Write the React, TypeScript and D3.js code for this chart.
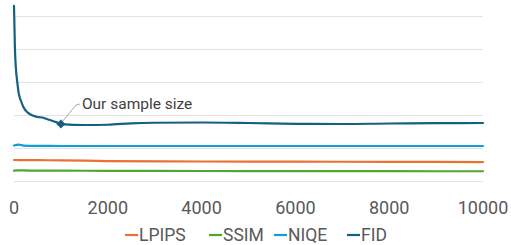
import React from "react";
import * as d3 from "d3";

// sample sizes used for the FID curve (dense near the start)
const fidSizes = [0, 20, 40, 70, 100, 150, 200, 300, 400, 500, 600, 700, 800, 900, 1000,
    1500, 2000, 2500, 3000, 4000, 5000, 6000, 7000, 8000, 9000, 10000];
const fidValues = [266, 200.7, 172, 150.7, 134, 122, 113, 104, 100, 97.7, 97, 94.7, 92.4, 90, 87,
    85.6, 86, 88.2, 89, 89.4, 88.6, 87.4, 87.1, 87.9, 88.3, 88.6];

// sample sizes for the flatter metrics
const sizes = [0, 100, 200, 500, 1000, 2000, 4000, 6000, 8000, 10000];
const lpipsValues = [32.6, 32.5, 32.4, 32.3, 32.1, 31, 30.3, 30, 29.8, 29.5];
const ssimValues = [16.4, 17, 16.8, 16.5, 16.4, 16.2, 15.9, 15.7, 15.6, 15.5];
const niqeValues = [54.5, 56, 54.5, 54, 53.8, 53.8, 53.8, 53.8, 53.8, 53.8];

const xTicks = [0, 2000, 4000, 6000, 8000, 10000];
const yTicks = [0, 50, 100, 150, 200, 250];

const sampleSize = 1000;
const sampleLabel = "Our sample size";

const series = [
    {name: "LPIPS", color: "#E97132", xs: sizes, ys: lpipsValues},
    {name: "SSIM", color: "#4EA72E", xs: sizes, ys: ssimValues},
    {name: "NIQE", color: "#0F9ED5", xs: sizes, ys: niqeValues},
    {name: "FID", color: "#156082", xs: fidSizes, ys: fidValues},
];

const App = () => {
    const width = 511;
    const height = 245;
    const font = "Roboto, 'Open Sans', sans-serif";

    const x = d3.scaleLinear().domain([0, 10000]).range([14, 483]);
    const y = d3.scaleLinear().domain([0, 250]).range([181.5, 16.5]);

    const line = d3
        .line<[number, number]>()
        .x((d) => x(d[0]))
        .y((d) => y(d[1]))
        .curve(d3.curveMonotoneX);

    const markerX = x(sampleSize);
    const markerY = y(fidValues[fidSizes.indexOf(sampleSize)]);

    const legendX = [125, 209, 274, 347];
    const legendY = 235;

    return (
        <svg width={width} height={height} style={{position: "absolute", left: 0, top: 0}}>
            {yTicks.map((t) => (
                <line key={t} x1={x(0)} x2={x(10000)} y1={y(t)} y2={y(t)}
                      stroke="#e3e3e3" strokeWidth={1.2}/>
            ))}
            {xTicks.map((t) => (
                <text key={t} x={x(t)} y={213.5} textAnchor="middle" fontFamily={font}
                      fontSize={18} fill="#595959">{t}</text>
            ))}
            {series.map((s) => (
                <path key={s.name}
                      d={line(s.xs.map((v, i) => [v, s.ys[i]] as [number, number])) || ""}
                      fill="none" stroke={s.color} strokeWidth={2.2}
                      strokeLinejoin="round" strokeLinecap="round"/>
            ))}
            <path d={`M${markerX + 1},${markerY - 2} L${markerX + 15},${markerY - 19} L${markerX + 19},${markerY - 20}`}
                  fill="none" stroke="#a6a6a6" strokeWidth={1}/>
            <path d={`M${markerX},${markerY - 4.5} L${markerX + 4.5},${markerY} L${markerX},${markerY + 4.5} L${markerX - 4.5},${markerY} Z`}
                  fill="#156082"/>
            <text x={markerX + 21} y={markerY - 15} fontFamily={font} fontSize={15.5} fill="#404040">
                {sampleLabel}
            </text>
            {series.map((s, i) => (
                <line key={s.name + "-sw"} x1={legendX[i]} x2={legendX[i] + 13} y1={legendY} y2={legendY}
                      stroke={s.color} strokeWidth={2.2}/>
            ))}
            {series.map((s, i) => (
                <text key={s.name + "-lb"} x={legendX[i] + 14} y={legendY + 5.8} fontFamily={font}
                      fontSize={17.5} fill="#595959">{s.name}</text>
            ))}
        </svg>
    );
};

export default App;
